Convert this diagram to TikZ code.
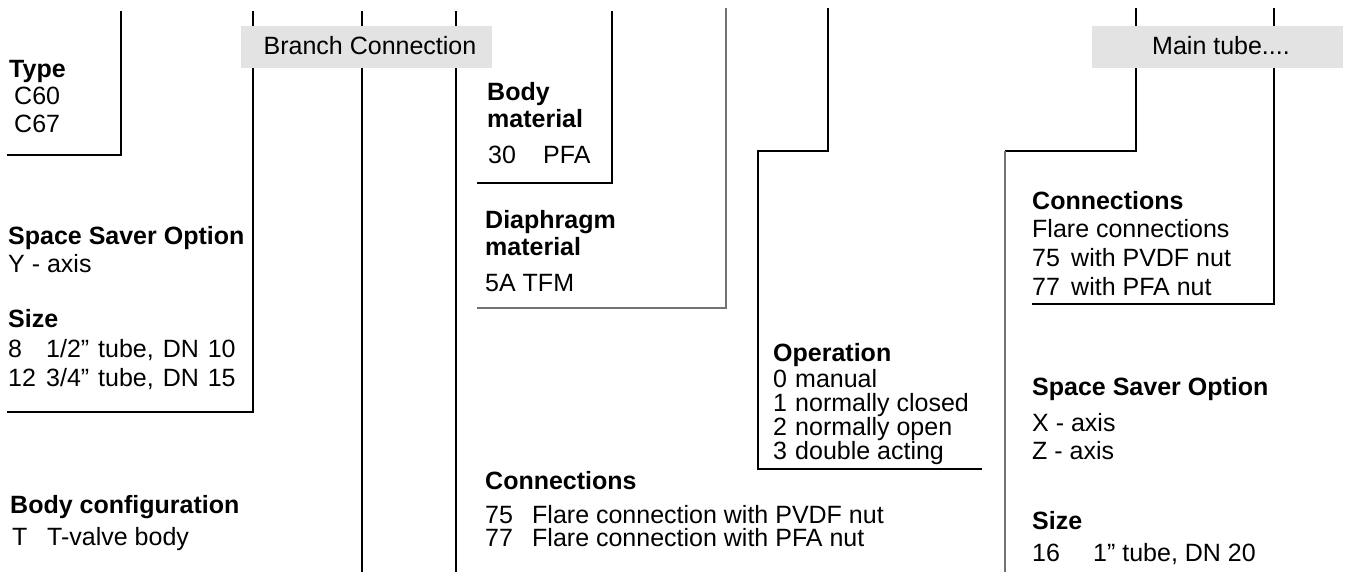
\documentclass[tikz,border=0pt]{standalone}
\usepackage{fontspec}
\setmainfont{Liberation Sans}
\newcommand{\wsp}{\hspace{2pt} }
\begin{document}
\begin{tikzpicture}[x=1pt,y=-1pt,
  txt/.style={anchor=base west,inner sep=0pt,font=\fontsize{25}{30}\selectfont},
  hd/.style={txt,font=\fontsize{25}{30}\selectfont\bfseries},
  blk/.style={line width=1.8pt,black},
  gry/.style={line width=1.6pt,black!55}]
\useasboundingbox (0,0) rectangle (1346,572);
% coordinates of bracket lines
\coordinate (a1) at (121,11); \coordinate (a2) at (121,155); \coordinate (a3) at (7,155);
\coordinate (b1) at (253,11); \coordinate (b2) at (253,412); \coordinate (b3) at (7,412);
\coordinate (c1) at (362,11); \coordinate (c2) at (362,572);
\coordinate (d1) at (456,11); \coordinate (d2) at (456,572);
\coordinate (e1) at (612,11); \coordinate (e2) at (612,183); \coordinate (e3) at (477,183);
\coordinate (f1) at (726,8); \coordinate (f2) at (726,308); \coordinate (f3) at (477,308);
\coordinate (g1) at (828,8); \coordinate (g2) at (828,151); \coordinate (g3) at (758,151);
\coordinate (g4) at (758,469); \coordinate (g5) at (982,469);
\coordinate (h1) at (1136,8); \coordinate (h2) at (1136,151); \coordinate (h3) at (1005,151);
\coordinate (h4) at (1005,572);
\coordinate (i1) at (1274,8); \coordinate (i2) at (1274,304); \coordinate (i3) at (1032,304);
% lines
\draw[blk] (a1) -- (a2) -- (a3);
\draw[blk] (b1) -- (b2) -- (b3);
\draw[blk] (c1) -- (c2);
\draw[blk] (d1) -- (d2);
\draw[blk] (e1) -- (e2) -- (e3);
\draw[gry] (f1) -- (f2) -- (f3);
\draw[blk,line width=1.5pt] (g1) -- (g2) -- (g3) -- (g4) -- (g5);
\draw[blk,line width=1.5pt] (h1) -- (h2) -- (h3);
\draw[gry] (h3) -- (h4);
\draw[blk,line width=1.5pt] (i1) -- (i2) -- (i3);
% tabs
\fill[black!11] (241,26) rectangle (492,68);
\node[txt,anchor=base] (branch) at (370,55) {Branch Connection};
\fill[black!11] (1092,26) rectangle (1343,68);
\node[txt,anchor=base] (main) at (1221,55) {Main tube....};
% Type
\node[hd] (type) at (9,78) {Type};
\node[txt] (c60) at (14,105) {C60};
\node[txt] (c67) at (14,133) {C67};
% Space saver left
\node[hd] (ssl) at (8,244) {Space Saver Option};
\node[txt] (yax) at (8,272) {Y - axis};
\node[hd] (sizel) at (8,327) {Size};
\node[txt] (s8) at (8,357) {8};
\node[txt] (s8t) at (46,357) {1/2”\wsp tube,\wsp DN\wsp 10};
\node[txt] (s12) at (8,386) {12};
\node[txt] (s12t) at (46,386) {3/4”\wsp tube,\wsp DN\wsp 15};
% Body configuration
\node[hd] (bc) at (10,513) {Body configuration};
\node[txt] (bt) at (12,545) {T};
\node[txt] (btt) at (47,545) {T-valve body};
% Body material
\node[hd] (bm1) at (487,101) {Body};
\node[hd] (bm2) at (487,128) {material};
\node[txt] (bm3) at (488,164) {30};
\node[txt] (bm4) at (543,164) {PFA};
% Diaphragm
\node[hd] (dm1) at (485,229) {Diaphragm};
\node[hd] (dm2) at (485,255) {material};
\node[txt] (dm3) at (485,291) {5A TFM};
% Operation
\node[hd] (op) at (773,361) {Operation};
\node[txt] (op0) at (773,387) {0};
\node[txt] (op0t) at (795,387) {manual};
\node[txt] (op1) at (773,411) {1};
\node[txt] (op1t) at (795,411) {normally closed};
\node[txt] (op2) at (773,435) {2};
\node[txt] (op2t) at (795,435) {normally open};
\node[txt] (op3) at (773,459) {3};
\node[txt] (op3t) at (795,459) {double acting};
% Connections left
\node[hd] (cl) at (485,489) {Connections};
\node[txt] (cl75) at (485,523) {75};
\node[txt] (cl75t) at (532,523) {Flare connection with PVDF nut};
\node[txt] (cl77) at (485,546) {77};
\node[txt] (cl77t) at (532,546) {Flare connection with PFA nut};
% Connections right
\node[hd] (cr) at (1032,210) {Connections};
\node[txt] (cr1) at (1032,237) {Flare connections};
\node[txt] (cr75) at (1032,266) {75};
\node[txt] (cr75t) at (1071,266) {with PVDF nut};
\node[txt] (cr77) at (1032,295) {77};
\node[txt] (cr77t) at (1071,295) {with PFA nut};
% Space saver right
\node[hd] (ssr) at (1032,395) {Space Saver Option};
\node[txt] (xax) at (1032,431) {X - axis};
\node[txt] (zax) at (1032,459) {Z - axis};
\node[hd] (sizer) at (1032,529) {Size};
\node[txt] (s16) at (1032,561) {16};
\node[txt] (s16t) at (1093,561) {1” tube, DN 20};
\end{tikzpicture}
\end{document}
